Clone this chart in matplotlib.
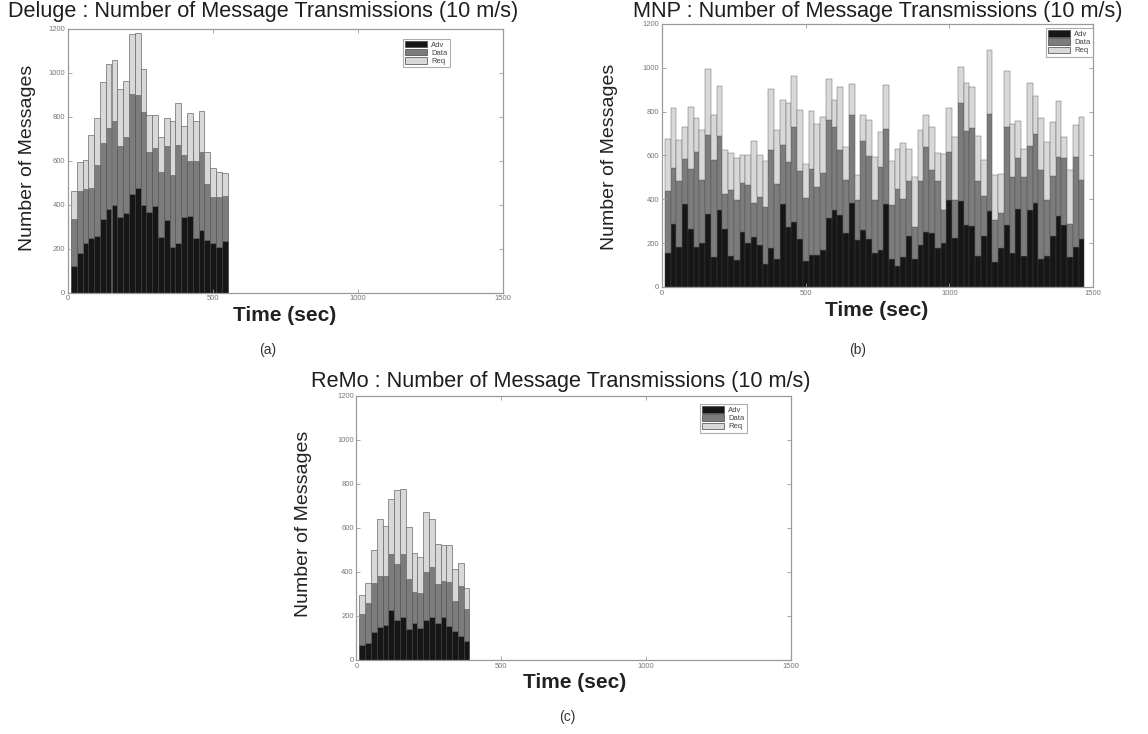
import numpy as np
import matplotlib
matplotlib.use("Agg")
import matplotlib.pyplot as plt
from matplotlib.patches import Patch

plt.rcParams['font.family'] = ['Liberation Sans', 'DejaVu Sans']

BIN = 20  # seconds per bar

# Deluge (a)
deluge_adv = [121, 178, 226, 246, 256, 332, 378, 397, 341, 362, 446, 475, 397, 366,
              394, 253, 329, 207, 226, 341, 348, 250, 284, 237, 223, 207, 235]
deluge_data = [212, 282, 246, 229, 322, 348, 368, 384, 324, 344, 456, 424, 422, 272,
               262, 294, 339, 328, 445, 285, 252, 350, 354, 255, 211, 227, 204]
deluge_req = [128, 133, 128, 243, 215, 279, 294, 275, 259, 256, 271, 279, 196, 169,
              151, 159, 125, 243, 189, 132, 216, 178, 188, 146, 132, 113, 104]

# MNP (b)
mnp_adv = [153, 286, 183, 377, 265, 183, 201, 335, 135, 353, 265, 141, 123, 250, 203,
           226, 191, 103, 179, 126, 380, 274, 297, 221, 120, 148, 144, 168, 317, 350,
           330, 248, 383, 214, 259, 217, 153, 168, 377, 127, 97, 138, 232, 126, 191,
           251, 248, 176, 203, 395, 224, 392, 285, 277, 142, 233, 347, 114, 179, 283,
           156, 358, 141, 350, 383, 126, 141, 232, 323, 282, 138, 183, 221]
mnp_data = [285, 258, 300, 208, 273, 431, 288, 360, 445, 338, 161, 303, 272, 224, 264,
            157, 220, 262, 444, 342, 268, 296, 435, 308, 286, 391, 312, 353, 447, 379,
            296, 241, 402, 181, 406, 383, 242, 379, 344, 246, 351, 262, 251, 148, 291,
            390, 284, 306, 147, 220, 171, 447, 429, 447, 340, 181, 442, 191, 159, 449,
            348, 230, 360, 295, 315, 406, 257, 276, 272, 307, 151, 409, 265]
mnp_req = [238, 273, 190, 144, 282, 156, 228, 299, 205, 227, 197, 168, 194, 129, 136,
           281, 189, 212, 280, 249, 205, 268, 232, 279, 156, 265, 288, 253, 187, 125,
           288, 149, 141, 114, 121, 162, 200, 159, 200, 204, 182, 257, 147, 230, 235,
           145, 200, 129, 257, 202, 288, 165, 215, 190, 209, 166, 291, 204, 176, 254,
           240, 171, 129, 284, 175, 239, 263, 246, 255, 94, 243, 147, 291]

# ReMo (c)
remo_adv = [68, 77, 128, 151, 160, 226, 181, 195, 140, 166, 146, 181, 196, 166, 195,
            154, 131, 109, 88]
remo_data = [139, 180, 222, 229, 220, 257, 257, 288, 230, 144, 159, 219, 227, 181, 163,
             201, 138, 226, 146]
remo_req = [90, 93, 151, 262, 228, 249, 337, 295, 234, 176, 163, 275, 219, 181, 166,
            169, 143, 105, 95]

series_names = ["Adv", "Data", "Req"]
colors = ["#161616", "#7c7c7c", "#d8d8d8"]
axis_grey = "#9a9a9a"


def draw_panel(ax, adv, data, req, legend_anchor, edge_lw=0.5):
    adv, data, req = np.array(adv), np.array(data), np.array(req)
    t = BIN * np.arange(1, len(adv) + 1)
    ax.bar(t, adv, width=BIN, color=colors[0], edgecolor="#3a3a3a", linewidth=edge_lw)
    ax.bar(t, data, width=BIN, bottom=adv, color=colors[1], edgecolor="#555555", linewidth=edge_lw)
    ax.bar(t, req, width=BIN, bottom=adv + data, color=colors[2], edgecolor="#6a6a6a", linewidth=edge_lw)

    ax.set_xlim(0, 1500)
    ax.set_ylim(0, 1200)
    ax.set_xticks([0, 500, 1000, 1500])
    ax.set_yticks(range(0, 1201, 200))
    ax.tick_params(direction="in", length=3, width=0.6, colors=axis_grey,
                   labelsize=5.5, labelcolor="#777777", top=True, right=True, pad=2)
    for sp in ax.spines.values():
        sp.set_color(axis_grey)
        sp.set_linewidth(0.9)

    handles = [Patch(facecolor=c, edgecolor="#444444", linewidth=0.5) for c in colors]
    leg = ax.legend(handles, series_names, loc="upper right", bbox_to_anchor=legend_anchor,
                    fontsize=5.5, frameon=True, fancybox=False, borderpad=0.3,
                    labelspacing=0.05, handlelength=2.8, handleheight=0.9,
                    handletextpad=0.6, borderaxespad=0)
    leg.get_frame().set_edgecolor(axis_grey)
    leg.get_frame().set_linewidth(0.8)
    for txt in leg.get_texts():
        txt.set_color("#444444")


fig = plt.figure(figsize=(11.48, 7.34), dpi=100)
W, H = 1148, 734


def add_axes_px(left, right, top, bottom):
    return fig.add_axes([left / W, 1 - bottom / H, (right - left) / W, (bottom - top) / H])


ax_a = add_axes_px(68, 503, 28.5, 292.5)
ax_b = add_axes_px(662, 1093, 24, 287)
ax_c = add_axes_px(356.5, 791, 396, 660)

draw_panel(ax_a, deluge_adv, deluge_data, deluge_req, (0.878, 0.962))
draw_panel(ax_b, mnp_adv, mnp_data, mnp_req, (1.0, 0.985), edge_lw=0.35)
draw_panel(ax_c, remo_adv, remo_data, remo_req, (0.898, 0.970))

title_kw = dict(fontsize=15.6, color="#1e1e1e", ha="center", va="center")
fig.text(263 / W, 1 - 12 / H, "Deluge : Number of Message Transmissions (10 m/s)", **title_kw)
fig.text(878 / W, 1 - 11 / H, "MNP : Number of Message Transmissions (10 m/s)", **title_kw)
fig.text(561 / W, 1 - 382 / H, "ReMo : Number of Message Transmissions (10 m/s)", **title_kw)

ylab_kw = dict(fontsize=14, color="#222222", rotation=90, ha="center", va="center")
fig.text(28 / W, 1 - 158 / H, "Number of Messages", **ylab_kw)
fig.text(610 / W, 1 - 157 / H, "Number of Messages", **ylab_kw)
fig.text(303 / W, 1 - 524 / H, "Number of Messages", **ylab_kw)

xlab_kw = dict(fontsize=15, color="#222222", ha="center", va="center", fontweight="bold")
fig.text(285 / W, 1 - 315 / H, "Time (sec)", **xlab_kw)
fig.text(877 / W, 1 - 311 / H, "Time (sec)", **xlab_kw)
fig.text(575 / W, 1 - 683 / H, "Time (sec)", **xlab_kw)

cap_kw = dict(fontsize=10, color="#333333", ha="center", va="center")
fig.text(268 / W, 1 - 350 / H, "(a)", **cap_kw)
fig.text(858 / W, 1 - 350 / H, "(b)", **cap_kw)
fig.text(567 / W, 1 - 717 / H, "(c)", **cap_kw)

fig.savefig("out.png", dpi=100)
